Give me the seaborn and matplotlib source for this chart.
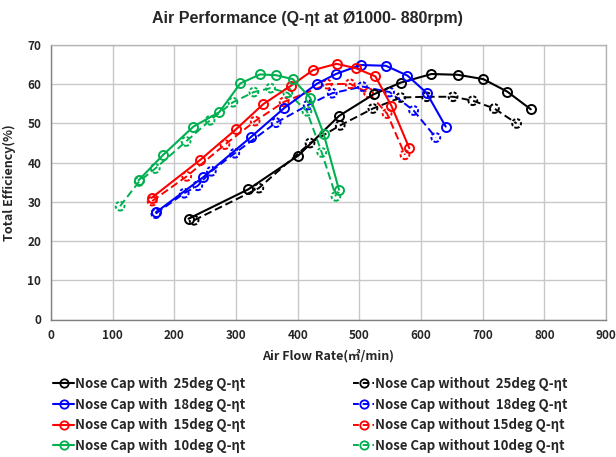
import numpy as np
import pandas as pd
import matplotlib
matplotlib.use("Agg")
import matplotlib.pyplot as plt
from matplotlib.lines import Line2D
import seaborn as sns

# ---- data ----
with25_x = [223, 320, 401, 467, 523, 567, 617, 660, 701, 740, 778]
with25_y = [25.7, 33.2, 41.8, 51.9, 57.4, 60.4, 62.6, 62.4, 61.3, 58.1, 53.6]
without25_x = [232, 337, 420, 469, 522, 567, 609, 652, 684, 719, 755]
without25_y = [25.3, 33.5, 45.0, 49.5, 53.8, 56.6, 56.8, 56.8, 55.8, 53.8, 50.0]

with18_x = [170, 247, 324, 378, 431, 462, 502, 543, 578, 609, 640]
with18_y = [27.3, 36.3, 46.5, 53.9, 60.1, 62.6, 64.9, 64.7, 62.2, 57.8, 49.2]
without18_x = [170, 216, 238, 260, 298, 365, 417, 456, 505, 549, 588, 624]
without18_y = [27.0, 32.2, 34.1, 37.8, 42.4, 50.2, 54.7, 57.7, 59.4, 58.0, 53.3, 46.4]

with15_x = [163, 242, 300, 344, 389, 425, 463, 494, 526, 552, 581]
with15_y = [31.0, 40.7, 48.5, 54.9, 59.6, 63.6, 65.2, 64.1, 62.0, 54.5, 43.7]
without15_x = [164, 220, 282, 331, 378, 448, 485, 515, 545, 574]
without15_y = [30.2, 36.5, 44.6, 50.6, 55.5, 60.0, 60.1, 57.8, 52.5, 42.0]

with10_x = [142, 182, 231, 273, 307, 339, 365, 392, 420, 442, 467]
with10_y = [35.5, 42.0, 49.2, 52.9, 60.2, 62.5, 62.3, 61.3, 56.6, 47.4, 33.1]
without10_x = [112, 143, 169, 219, 258, 295, 329, 356, 384, 415, 439, 462]
without10_y = [28.9, 35.2, 38.5, 45.4, 50.8, 55.4, 58.0, 59.0, 57.8, 53.1, 42.6, 31.4]

with_labels = ["Nose Cap with  25deg Q-ηt", "Nose Cap with  18deg Q-ηt",
               "Nose Cap with  15deg Q-ηt", "Nose Cap with  10deg Q-ηt"]
without_labels = ["Nose Cap without  25deg Q-ηt", "Nose Cap without  18deg Q-ηt",
                  "Nose Cap without 15deg Q-ηt", "Nose Cap without 10deg Q-ηt"]
colors = ["#000000", "#0000ff", "#ff0000", "#00b050"]

x_ticks = [0, 100, 200, 300, 400, 500, 600, 700, 800, 900]
y_ticks = [0, 10, 20, 30, 40, 50, 60, 70]

# ---- style ----
sns.set_theme(style="white")
plt.rcParams['font.family'] = ['Noto Sans CJK KR', 'DejaVu Sans']
plt.rcParams['font.weight'] = 'bold'

fig = plt.figure(figsize=(6.16, 4.57), dpi=100)
ax = fig.add_axes([51/616, 1-319.5/457, 555/616, 274.5/457])

with_series = [(with25_x, with25_y), (with18_x, with18_y), (with15_x, with15_y), (with10_x, with10_y)]
without_series = [(without25_x, without25_y), (without18_x, without18_y),
                  (without15_x, without15_y), (without10_x, without10_y)]

dash = (0, (4, 2))
for (xs, ys), c, lab in zip(without_series, colors, without_labels):
    df = pd.DataFrame({"x": xs, "y": ys})
    sns.lineplot(data=df, x="x", y="y", ax=ax, color=c, sort=False, lw=1.4,
                 linestyle="--", dashes=False, zorder=3)
    ax.lines[-1].set_linestyle(dash)
    sns.scatterplot(data=df, x="x", y="y", ax=ax, s=40, facecolors="none",
                    edgecolor=c, linewidth=1.4, linestyle=(0, (1.6, 1.0)), zorder=4)

for (xs, ys), c, lab in zip(with_series, colors, with_labels):
    df = pd.DataFrame({"x": xs, "y": ys})
    sns.lineplot(data=df, x="x", y="y", ax=ax, color=c, sort=False, lw=1.5,
                 marker="o", markersize=6.5, markerfacecolor="none",
                 markeredgecolor=c, markeredgewidth=1.4, zorder=5)

ax.set_xlim(0, 900)
ax.set_ylim(0, 70)
ax.set_xticks(x_ticks)
ax.set_yticks(y_ticks)
ax.grid(True, color="#c8c8c8", lw=1.0)
ax.set_axisbelow(True)
for s in ["top", "right"]:
    ax.spines[s].set_color("#b4b4b4")
for s in ["left", "bottom"]:
    ax.spines[s].set_color("#808080")
for s in ax.spines.values():
    s.set_linewidth(1.0)
ax.tick_params(axis="both", length=0, labelsize=8.5, pad=7)
for t in ax.get_xticklabels() + ax.get_yticklabels():
    t.set_fontweight("bold")

ax.set_xlabel("Air Flow Rate(㎥/min)", fontsize=9, fontweight="bold", labelpad=6)
ax.set_ylabel("Total Efficiency(%)", fontsize=9, fontweight="bold", labelpad=8)
fig.text(307/616, 1-18/457, "Air Performance (Q-ηt at Ø1000- 880rpm)",
         ha="center", va="center", fontsize=11.5, fontweight="bold",
         family=["Liberation Sans", "DejaVu Sans"])

h_with = [Line2D([0], [0], color=c, lw=1.5, marker="o", markersize=6,
                 markerfacecolor="none", markeredgewidth=1.3) for c in colors]
h_without = [Line2D([0], [0], color=c, lw=1.4, linestyle=(0, (3, 2)), marker="o", markersize=6,
                    markerfacecolor="none", markeredgewidth=1.3) for c in colors]
leg_kw = dict(frameon=False, handlelength=1.6, handletextpad=0.05, labelspacing=0.5,
              prop={"size": 9.5, "weight": "bold"}, borderaxespad=0, borderpad=0)
leg1 = fig.legend(h_with, with_labels, loc="upper left",
                  bbox_to_anchor=(53/616, 1-377/457), **leg_kw)
leg2 = fig.legend(h_without, without_labels, loc="upper left",
                  bbox_to_anchor=(353/616, 1-377/457), **leg_kw)

fig.savefig("out.png", dpi=100)
